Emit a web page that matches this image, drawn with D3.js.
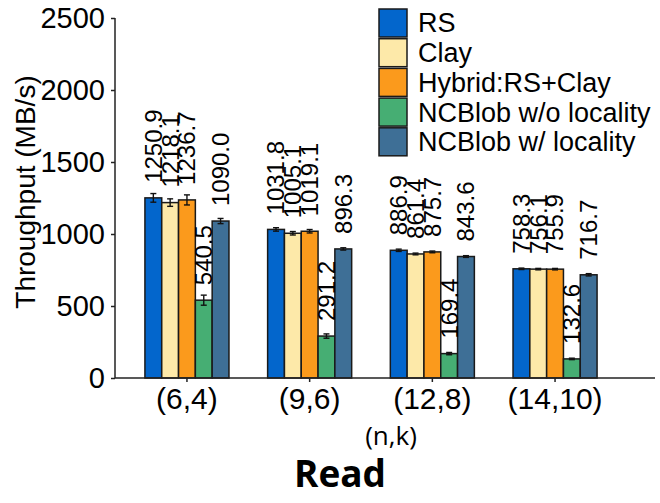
<!DOCTYPE html>
<html>
<head>
  <title>Read Throughput</title>
  <script src="https://d3js.org/d3.v7.min.js"></script>
  <style>
    body { margin: 0; background: #fff; }
  </style>
</head>
<body>
  <svg id="chart"></svg>
  <script>
    // categories (n,k) and series
    const groups = ["(6,4)", "(9,6)", "(12,8)", "(14,10)"];
    const series = ["RS", "Clay", "Hybrid:RS+Clay", "NCBlob w/o locality", "NCBlob w/ locality"];
    const colors = ["#0366cc", "#fde9a9", "#fb9a1c", "#46ae73", "#3e6f96"];

    // throughput per series, one value per group
    const rsVals      = [1250.9, 1031.8, 886.9, 758.3];
    const clayVals    = [1218.1, 1005.1, 861.4, 756.1];
    const hybridVals  = [1236.7, 1019.1, 875.7, 755.9];
    const noLocVals   = [540.5, 291.2, 169.4, 132.6];
    const locVals     = [1090.0, 896.3, 843.6, 716.7];

    // error bar half widths
    const rsErr     = [30, 12, 8, 5];
    const clayErr   = [26, 12, 6, 5];
    const hybridErr = [35, 12, 6, 5];
    const noLocErr  = [35, 15, 8, 5];
    const locErr    = [18, 8, 6, 8];

    const yTicks = [0, 500, 1000, 1500, 2000, 2500];

    const allVals = [rsVals, clayVals, hybridVals, noLocVals, locVals];
    const allErr = [rsErr, clayErr, hybridErr, noLocErr, locErr];

    const data = [];
    groups.forEach((g, gi) => {
      series.forEach((s, si) => {
        data.push({ group: g, series: s, value: allVals[si][gi], err: allErr[si][gi], color: colors[si] });
      });
    });

    const width = 660, height = 503;
    const svg = d3.select("#chart")
      .attr("width", width)
      .attr("height", height)
      .style("font-family", "'Liberation Sans', Arial, sans-serif");

    const plotLeft = 115, plotRight = 655, plotTop = 18, plotBottom = 378;

    const x0 = d3.scaleBand()
      .domain(groups)
      .range([125.6, 616.4])
      .padding(0);

    const x1 = d3.scaleBand()
      .domain(series)
      .range([0, x0.bandwidth()])
      .paddingOuter(1.15)
      .paddingInner(0);

    const y = d3.scaleLinear()
      .domain([0, 2500])
      .range([plotBottom, plotTop]);

    // bars
    const bars = svg.append("g");
    bars.selectAll("rect")
      .data(data)
      .enter()
      .append("rect")
      .attr("x", d => x0(d.group) + x1(d.series))
      .attr("y", d => y(d.value))
      .attr("width", x1.bandwidth())
      .attr("height", d => y(0) - y(d.value))
      .attr("fill", d => d.color)
      .attr("stroke", "#1a1a1a")
      .attr("stroke-width", 1.5);

    // error bars
    const errG = svg.append("g").attr("stroke", "#111").attr("stroke-width", 1.4);
    data.forEach(d => {
      const cx = x0(d.group) + x1(d.series) + x1.bandwidth() / 2;
      errG.append("line").attr("x1", cx).attr("x2", cx)
        .attr("y1", y(d.value + d.err)).attr("y2", y(d.value - d.err));
      errG.append("line").attr("x1", cx - 3).attr("x2", cx + 3)
        .attr("y1", y(d.value + d.err)).attr("y2", y(d.value + d.err));
      errG.append("line").attr("x1", cx - 3).attr("x2", cx + 3)
        .attr("y1", y(d.value - d.err)).attr("y2", y(d.value - d.err));
    });

    // value labels
    svg.append("g").selectAll("text")
      .data(data)
      .enter()
      .append("text")
      .attr("transform", d => {
        const cx = x0(d.group) + x1(d.series) + x1.bandwidth() / 2;
        return `translate(${cx},${y(d.value) - 15}) rotate(-90)`;
      })
      .attr("dy", "0.35em")
      .attr("font-size", 24)
      .attr("fill", "#000")
      .text(d => d.value.toFixed(1));

    // y axis
    const yAxis = svg.append("g")
      .attr("transform", `translate(${plotLeft},0)`)
      .call(d3.axisLeft(y).tickValues(yTicks).tickSize(4).tickPadding(6).tickFormat(d3.format("d")));
    yAxis.select(".domain").attr("d", `M0,${plotTop}V${plotBottom}`).attr("stroke", "#222").attr("stroke-width", 1.5);
    yAxis.selectAll(".tick line").attr("stroke", "#222").attr("stroke-width", 1.5);
    yAxis.selectAll(".tick text").attr("font-size", 29).attr("fill", "#000")
      .attr("font-family", "'Liberation Sans', Arial, sans-serif");

    // x axis
    const xAxis = svg.append("g")
      .attr("transform", `translate(0,${plotBottom})`)
      .call(d3.axisBottom(x0).tickSize(4).tickPadding(6));
    xAxis.select(".domain").attr("d", `M${plotLeft},0H${plotRight}`).attr("stroke", "#222").attr("stroke-width", 1.5);
    xAxis.selectAll(".tick line").attr("stroke", "#222").attr("stroke-width", 1.5);
    xAxis.selectAll(".tick text").attr("font-size", 30).attr("fill", "#000")
      .attr("font-family", "'Liberation Sans', Arial, sans-serif");

    // axis titles
    svg.append("text")
      .attr("transform", `translate(35,192) rotate(-90)`)
      .attr("text-anchor", "middle")
      .attr("font-size", 28)
      .attr("fill", "#000")
      .text("Throughput (MB/s)");

    svg.append("text")
      .attr("x", 391)
      .attr("y", 445)
      .attr("text-anchor", "middle")
      .attr("font-family", "'Open Sans', sans-serif")
      .attr("font-size", 26)
      .attr("fill", "#000")
      .text("(n,k)");

    svg.append("text")
      .attr("x", 340)
      .attr("y", 487)
      .attr("text-anchor", "middle")
      .attr("font-family", "'Open Sans', sans-serif")
      .attr("font-weight", "bold")
      .attr("font-size", 37)
      .attr("fill", "#000")
      .text("Read");

    // legend
    const legend = svg.append("g").attr("transform", "translate(379,9)");
    series.forEach((s, i) => {
      const row = legend.append("g").attr("transform", `translate(0,${i * 29.7})`);
      row.append("rect")
        .attr("width", 28).attr("height", 28)
        .attr("fill", colors[i])
        .attr("stroke", "#1a1a1a").attr("stroke-width", 1.5);
      row.append("text")
        .attr("x", 39).attr("y", 14).attr("dy", "0.35em")
        .attr("font-size", 27)
        .attr("fill", "#000")
        .text(s);
    });
  </script>
</body>
</html>
